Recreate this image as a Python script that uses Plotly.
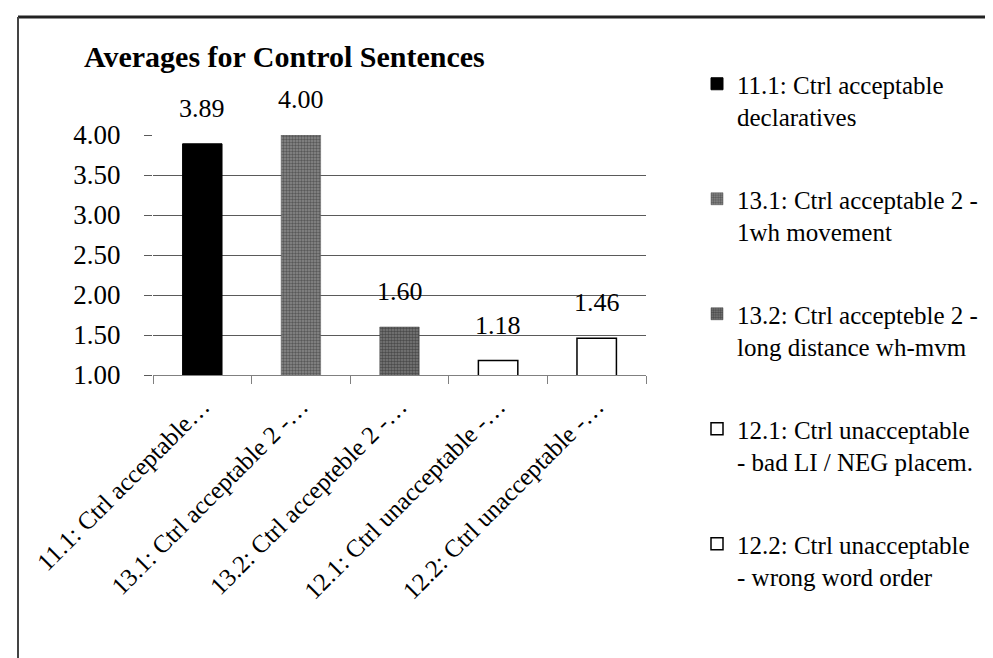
import plotly.graph_objects as go

# ---- data ----
categories = [
    "11.1: Ctrl acceptable…",
    "13.1: Ctrl acceptable 2 -…",
    "13.2: Ctrl accepteble 2 -…",
    "12.1: Ctrl unacceptable -…",
    "12.2: Ctrl unacceptable -…",
]
values = [3.89, 4.00, 1.60, 1.18, 1.46]
value_labels = ["3.89", "4.00", "1.60", "1.18", "1.46"]
legend_names = [
    "11.1: Ctrl acceptable<br>declaratives",
    "13.1: Ctrl acceptable 2 -<br>1wh movement",
    "13.2: Ctrl accepteble 2 -<br>long distance wh-mvm",
    "12.1: Ctrl unacceptable<br>- bad LI / NEG placem.",
    "12.2: Ctrl unacceptable<br>- wrong word order",
]
y_ticks = [1.0, 1.5, 2.0, 2.5, 3.0, 3.5, 4.0]
y_tick_text = ["1.00", "1.50", "2.00", "2.50", "3.00", "3.50", "4.00"]

# ---- styles ----
W, H = 993, 658
FONT = "Liberation Serif"
styles = [
    dict(color="#000000", line=dict(color="#000000", width=1)),
    dict(color="#7a7a7a", line=dict(color="#555555", width=0.5),
         pattern=dict(shape=".", fgcolor="#262626", bgcolor="#8a8a8a", size=3, solidity=0.5)),
    dict(color="#6a6a6a", line=dict(color="#444444", width=0.5),
         pattern=dict(shape=".", fgcolor="#1a1a1a", bgcolor="#7c7c7c", size=3, solidity=0.55)),
    dict(color="#ffffff", line=dict(color="#000000", width=1.5)),
    dict(color="#ffffff", line=dict(color="#000000", width=1.5)),
]

fig = go.Figure()
for i, cat in enumerate(categories):
    fig.add_trace(go.Bar(
        x=[cat], y=[values[i]], name=legend_names[i],
        marker=styles[i], legendgroup=f"g{i}", width=0.4,
        hoverinfo="skip",
    ))

for i, cat in enumerate(categories):
    fig.add_annotation(
        x=cat, y=values[i], text=value_labels[i], showarrow=False,
        yanchor="bottom", yshift=19, font=dict(family=FONT, size=26, color="#000"),
    )

fig.update_layout(
    width=W, height=H,
    margin=dict(l=0, r=0, t=0, b=0, autoexpand=False),
    paper_bgcolor="white", plot_bgcolor="white",
    barmode="overlay",
    font=dict(family=FONT, color="#000"),
    title=dict(
        text="<b>Averages for Control Sentences</b>",
        font=dict(family=FONT, size=30, color="#000"),
        x=76 / W, xanchor="left", xref="paper",
        y=1 - 48 / H, yanchor="middle", yref="container",
    ),
    xaxis=dict(
        domain=[145 / W, 638 / W], automargin=False,
        categoryorder="array", categoryarray=categories,
        tickangle=-45, tickfont=dict(family=FONT, size=25, color="#000"),
        ticks="outside", tickson="boundaries", ticklen=8, tickcolor="#808080",
        showline=True, linecolor="#808080", linewidth=1,
        showgrid=False, ticklabelstandoff=6,
    ),
    yaxis=dict(
        domain=[(H - 367) / H, (H - 127) / H], automargin=False,
        range=[1, 4], tickvals=y_ticks, ticktext=y_tick_text,
        tickfont=dict(family=FONT, size=27, color="#000"),
        showgrid=True, gridcolor="#5a5a5a", gridwidth=1,
        ticks="outside", ticklen=8, tickcolor="#5a5a5a",
        showline=False, zeroline=False, ticklabelstandoff=18,
    ),
    legend=dict(
        x=689 / W, xanchor="left", y=1 - 53 / H, yanchor="top",
        font=dict(family=FONT, size=25, color="#000"),
        tracegroupgap=47, traceorder="grouped", valign="top",
        bgcolor="rgba(0,0,0,0)", borderwidth=0,
    ),
    shapes=[
        dict(type="line", xref="paper", yref="paper",
             x0=10 / W, x1=1, y0=1 - 9 / H, y1=1 - 9 / H,
             line=dict(color="#222", width=3)),
        dict(type="line", xref="paper", yref="paper",
             x0=10 / W, x1=10 / W, y0=0, y1=1 - 9 / H,
             line=dict(color="#444", width=2)),
    ],
)

fig.write_html("out.html")
